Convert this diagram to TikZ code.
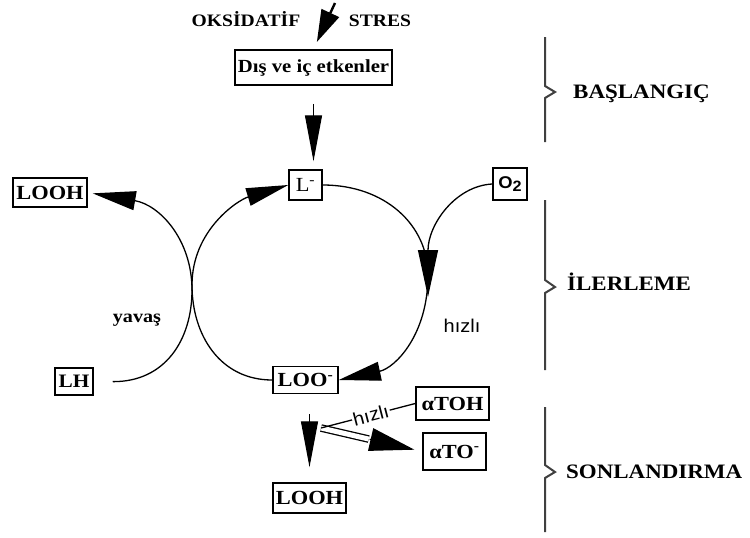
\documentclass[tikz,border=0pt]{standalone}
\usepackage{fontspec}
\setmainfont[FakeStretch=1.12]{Liberation Serif}
\setsansfont[FakeStretch=1.08]{Liberation Sans}
\usetikzlibrary{arrows.meta}
\begin{document}
\begin{tikzpicture}[x=1pt,y=-1pt,
  box/.style={draw, line width=1.5pt, inner sep=0pt, font=\bfseries\fontsize{20}{20}\selectfont},
  lbl/.style={font=\bfseries\fontsize{18}{20}\selectfont, inner sep=0pt},
  toplbl/.style={font=\bfseries\fontsize{17.5}{19}\selectfont, inner sep=0pt, anchor=base},
  sanslbl/.style={font=\sffamily\fontsize{18.5}{20}\selectfont, inner sep=0pt},
  side/.style={font=\bfseries\fontsize{20.5}{22}\selectfont, inner sep=0pt, anchor=base west},
  conn/.style={line width=1.3pt},
  bighead/.style={-{Triangle[length=46pt,width=17pt]}},
  brace/.style={draw=black!75, line width=2pt}
]
\useasboundingbox (0,0) rectangle (750,538);

% texts
\node[toplbl] (ox) at (246,27) {OKSİDATİF};
\node[toplbl] (st) at (380,27) {STRES};
\node[lbl] (yv) at (137,320) {yavaş};
\node[sanslbl] (hz1) at (462,326) {hızlı};
\node[side] (bas) at (573,98) {BAŞLANGIÇ};
\node[side] (ile) at (567,290) {İLERLEME};
\node[side] (son) at (566,478) {SONLANDIRMA};

% boxes
\node[box, minimum width=157pt, minimum height=35pt, font=\bfseries\fontsize{18.5}{19}\selectfont] (dis) at (313.5,67.5) {Dış ve iç etkenler};
\node[box, minimum width=33pt, minimum height=30pt, font=\fontsize{20}{20}\selectfont] (L) at (305.5,185) {L\textsuperscript{-}};
\node[box, minimum width=34pt, minimum height=32pt, font=\sffamily\bfseries\fontsize{17}{17}\selectfont] (O2) at (510,184) {O\raisebox{-3pt}{\fontsize{15}{15}\selectfont 2}};
\node[box, minimum width=74pt, minimum height=29pt] (LOOHt) at (50,192.5) {LOOH};
\node[box, minimum width=38pt, minimum height=27pt, font=\bfseries\fontsize{19}{19}\selectfont] (LH) at (74,381.5) {LH};
\node[box, minimum width=65pt, minimum height=27pt] (LOO) at (305.5,380) {LOO\textsuperscript{-}};
\node[box, minimum width=73pt, minimum height=33pt] (aTOH) at (452.5,403.5) {αTOH};
\node[box, minimum width=63pt, minimum height=37pt] (aTO) at (454.5,451.5) {αTO\textsuperscript{-}};
\node[box, minimum width=73pt, minimum height=30pt] (LOOHb) at (309.5,498) {LOOH};

% coordinates
\coordinate (src) at (335,3);
\coordinate (mid) at (428,297);
\coordinate (J) at (321,428);

% top arrows
\draw[line width=2.4pt, -{Triangle[length=32pt,width=19pt]}, shorten >=8pt] (src) -- (dis.north);
\draw[conn, bighead, shorten <=18pt, shorten >=8pt] (dis.south) -- (dis.south |- L.north);

% cycle
\draw[conn, -{Triangle[length=42pt,width=18pt]}] (LOO.west) .. controls (220,380) and (192,335) .. (192,285) .. controls (192,230) and (238,200) .. (L.west);
\draw[conn, -{Triangle[length=42pt,width=19pt]}] (L.east) .. controls (385,185) and (428,225) .. (428,275) .. controls (428,335) and (395,368) .. (LOO.east);
\draw[conn, -{Triangle[length=47pt,width=20pt]}] (O2.west) .. controls (455,186) and (428,225) .. (mid);
\draw[conn, -{Triangle[length=43pt,width=19pt]}, shorten <=19pt, shorten >=5pt] (LH.east) .. controls (165,382) and (192,340) .. (192,290) .. controls (192,240) and (160,205) .. (LOOHt.east);

% termination
\draw[conn, bighead, shorten <=20pt, shorten >=15pt] (LOOHb.north |- LOO.south) -- (LOOHb.north);
\draw[line width=1.3pt, double, double distance=5pt, shorten >=55pt] (J) -- (aTO.west);
\draw[line width=1.3pt, -{Triangle[length=45pt,width=23pt]}, shorten <=50pt, shorten >=8pt] (J) -- (aTO.west);
\draw[conn] (aTOH.west) -- node[pos=0.47, sloped, fill=white, inner sep=1pt, font=\sffamily\fontsize{18.5}{19}\selectfont] (hz2) {hızlı} (J);

% braces
\draw[brace] (545,37) -- (545,86) -- (555,92) -- (545,98) -- (545,142);
\draw[brace] (545,200) -- (545,280) -- (555,287) -- (545,293) -- (545,370);
\draw[brace] (545,407) -- (545,465) -- (555,472) -- (545,478) -- (545,532);
\end{tikzpicture}
\end{document}
